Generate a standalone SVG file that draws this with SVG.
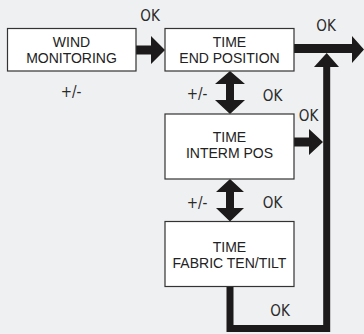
<svg xmlns="http://www.w3.org/2000/svg" width="364" height="334" viewBox="0 0 364 334">
<style>
.box{fill:#fff;stroke:#333;stroke-width:1.2}
.t{font-family:"Liberation Sans",Arial,sans-serif;font-size:14px;fill:#222;text-anchor:middle}
.lbl{font-family:"DejaVu Sans Condensed","DejaVu Sans",sans-serif;font-stretch:condensed;font-size:15px;fill:#2a2a2a;text-anchor:middle}
.a{fill:#1c1a1a}
.ln{fill:none;stroke:#1c1a1a;stroke-width:7}
</style>
<rect width="364" height="334" fill="#eff0f2"/>
<g id="connectors">
<path class="a" d="M136 45.5H151V36L165 50L151 64V54.5H136Z"/>
<path class="a" d="M294 44H352V36L364 49.5L352 63V53H294Z"/>
<path class="ln" d="M230 287V328.5H326.7V66"/>
<path class="a" d="M326.7 53L339 67H314Z"/>
<path class="a" d="M230 71L245 84H234V100H245L230 114L215 100H226V84H215Z"/>
<path class="a" d="M230 179L244 192H234V208H244L230 221.5L216 208H226V192H216Z"/>
<path class="a" d="M294 137.5H309V129L323 142L309 155V146.5H294Z"/>
</g>
<g id="wind">
<rect class="box" x="7.5" y="28.5" width="128.5" height="42.5"/>
<text class="t" x="71.5" y="46.5">WIND</text>
<text class="t" x="71.5" y="62.5">MONITORING</text>
</g>
<g id="endpos">
<rect class="box" x="165" y="28.5" width="129" height="42.5"/>
<text class="t" x="229.5" y="46.5">TIME</text>
<text class="t" x="229.5" y="62.5">END POSITION</text>
</g>
<g id="interm">
<rect class="box" x="165" y="114" width="129" height="65"/>
<text class="t" x="229.5" y="141.5">TIME</text>
<text class="t" x="229.5" y="158">INTERM POS</text>
</g>
<g id="fabric">
<rect class="box" x="165" y="221.5" width="129" height="65"/>
<text class="t" x="229.5" y="251.5">TIME</text>
<text class="t" x="229.5" y="267.5">FABRIC TEN/TILT</text>
</g>
<g id="labels">
<text class="lbl" x="150" y="20.5">OK</text>
<text class="lbl" x="71" y="97">+/-</text>
<text class="lbl" x="326" y="30.5">OK</text>
<text class="lbl" x="197" y="98.5">+/-</text>
<text class="lbl" x="272.5" y="100.5">OK</text>
<text class="lbl" x="308.5" y="120.5">OK</text>
<text class="lbl" x="197" y="207.5">+/-</text>
<text class="lbl" x="272.5" y="207.5">OK</text>
<text class="lbl" x="280" y="315.5">OK</text>
</g>
</svg>
